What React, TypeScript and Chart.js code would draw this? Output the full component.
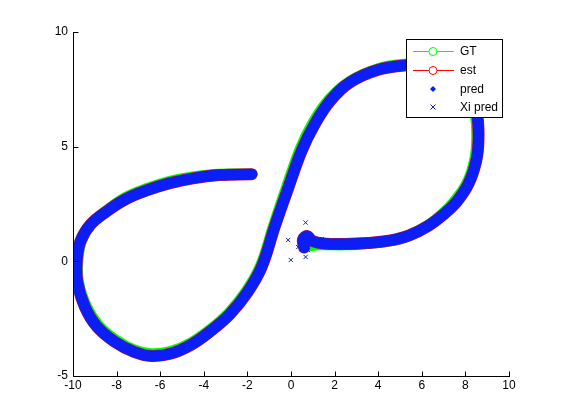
import React, { useEffect, useRef } from "react";
import { Chart, registerables } from "chart.js";

Chart.register(...registerables);

// Estimated trajectory (est / pred)
const trackX = [0.6, 0.55, 0.75, 0.95, 1.5, 2.5, 3.5, 4.5, 5.4, 6.3, 7.0, 7.6, 8.15, 8.5, 8.6, 8.55, 8.25, 7.6, 6.5, 5.3, 4.0, 2.7, 1.8, 1.1, 0.5, -0.2, -0.75, -1.35, -2.0, -2.8, -3.7, -4.6, -5.5, -6.4, -7.2, -8.1, -8.9, -9.45, -9.8, -9.82, -9.65, -9.2, -8.5, -7.6, -6.6, -5.6, -4.5, -3.3, -1.8];
const trackY = [0.6, 0.95, 1.1, 0.9, 0.78, 0.76, 0.8, 0.9, 1.12, 1.55, 2.05, 2.6, 3.4, 4.4, 5.3, 6.3, 7.35, 8.15, 8.55, 8.55, 8.35, 7.8, 7.0, 6.0, 4.85, 3.0, 1.5, -0.25, -1.35, -2.3, -3.05, -3.65, -4.02, -4.13, -3.95, -3.5, -2.85, -2.0, -0.9, 0.1, 0.9, 1.6, 2.15, 2.7, 3.1, 3.4, 3.62, 3.76, 3.8];

// Ground truth trajectory
const gtX = [0.6, 0.7, 1.0, 1.5, 2.5, 3.5, 4.5, 5.4, 6.3, 7.0, 7.55, 8.08, 8.42, 8.52, 8.47, 8.2, 7.6, 6.5, 5.3, 4.0, 2.7, 1.75, 1.02, 0.42, -0.27, -0.8, -1.4, -2.05, -2.85, -3.72, -4.6, -5.5, -6.4, -7.2, -8.05, -8.82, -9.38, -9.75, -9.77, -9.6, -9.15, -8.45, -7.6, -6.6, -5.6, -4.5, -3.3, -1.8];
const gtY = [0.6, 0.65, 0.7, 0.72, 0.72, 0.78, 0.88, 1.12, 1.58, 2.12, 2.68, 3.43, 4.4, 5.3, 6.3, 7.32, 8.18, 8.6, 8.6, 8.4, 7.85, 7.06, 6.06, 4.9, 3.05, 1.55, -0.2, -1.3, -2.25, -2.98, -3.56, -3.92, -4.03, -3.86, -3.42, -2.8, -1.97, -0.9, 0.1, 0.93, 1.65, 2.22, 2.78, 3.18, 3.48, 3.68, 3.8, 3.8];

// Scattered "Xi pred" points near the start
const xiX = [0.67, -0.13, -0.01, 0.67, 0.33, 0.78, 1.42, 0.95];
const xiY = [1.69, 0.93, 0.06, 0.19, 0.62, 0.49, 0.97, 1.05];

// Axis ticks
const xMin = -10, xMax = 10, xStep = 2;
const yMin = -5, yMax = 10, yStep = 5;

const legendLabels = ["GT", "est", "pred", "Xi pred"];

const GREEN = "#00ff00";
const RED = "#ff0000";
const BLUE = "rgb(10,30,245)";
const XBLUE = "rgb(20,30,200)";
const FONT = "'Liberation Sans', Arial, sans-serif";

const toPts = (xs: number[], ys: number[]) => xs.map((x, i) => ({ x, y: ys[i] }));

const axesPlugin = {
  id: "matlabAxes",
  afterDraw(chart: any) {
    const { ctx, chartArea } = chart;
    const xs = chart.scales.x;
    const ys = chart.scales.y;
    ctx.save();
    ctx.strokeStyle = "#000";
    ctx.lineWidth = 1;
    const L = Math.round(chartArea.left) + 0.5;
    const B = Math.round(chartArea.bottom) + 0.5;
    ctx.beginPath();
    ctx.moveTo(L, Math.round(chartArea.top));
    ctx.lineTo(L, B);
    ctx.lineTo(Math.round(chartArea.right) + 1, B);
    for (const t of xs.ticks) {
      const px = Math.round(xs.getPixelForValue(t.value)) + 0.5;
      ctx.moveTo(px, B);
      ctx.lineTo(px, B - 5);
    }
    for (const t of ys.ticks) {
      const py = Math.round(ys.getPixelForValue(t.value)) + 0.5;
      ctx.moveTo(L, py);
      ctx.lineTo(L + 5, py);
    }
    ctx.stroke();

    // legend box
    const bx = 406.5, by = 39.5, bw = 96, bh = 78;
    ctx.fillStyle = "#fff";
    ctx.fillRect(bx, by, bw, bh);
    ctx.strokeRect(bx, by, bw, bh);
    const rows = [51, 70, 89, 107];
    const cx = 433;
    ctx.font = `12px ${FONT}`;
    ctx.textBaseline = "middle";
    ctx.textAlign = "left";
    rows.forEach((ry, i) => {
      if (i < 2) {
        const c = i === 0 ? GREEN : RED;
        ctx.strokeStyle = c;
        ctx.beginPath();
        ctx.moveTo(413, ry + 0.5);
        ctx.lineTo(454, ry + 0.5);
        ctx.stroke();
        ctx.fillStyle = "#fff";
        ctx.beginPath();
        ctx.arc(cx, ry + 0.5, 4, 0, Math.PI * 2);
        ctx.fill();
        ctx.stroke();
      } else if (i === 2) {
        ctx.fillStyle = BLUE;
        ctx.beginPath();
        ctx.moveTo(cx, ry - 3);
        ctx.lineTo(cx + 3, ry);
        ctx.lineTo(cx, ry + 3);
        ctx.lineTo(cx - 3, ry);
        ctx.closePath();
        ctx.fill();
      } else {
        ctx.strokeStyle = XBLUE;
        ctx.beginPath();
        ctx.moveTo(cx - 2.5, ry - 2.5);
        ctx.lineTo(cx + 2.5, ry + 2.5);
        ctx.moveTo(cx + 2.5, ry - 2.5);
        ctx.lineTo(cx - 2.5, ry + 2.5);
        ctx.stroke();
      }
      ctx.fillStyle = "#000";
      ctx.fillText(legendLabels[i], 460, ry + 1);
    });
    ctx.restore();
  },
};

export default function App() {
  const ref = useRef<HTMLCanvasElement | null>(null);
  useEffect(() => {
    if (!ref.current) return;
    const lastGt = gtX.length - 1;
    const chart = new Chart(ref.current, {
      type: "scatter",
      data: {
        datasets: [
          {
            label: legendLabels[3],
            data: toPts(xiX, xiY),
            showLine: false,
            pointStyle: "crossRot",
            pointRadius: 3,
            borderColor: XBLUE,
            pointBorderWidth: 1,
            order: 1,
          },
          {
            label: legendLabels[2],
            data: toPts(trackX, trackY),
            showLine: true,
            borderColor: BLUE,
            borderWidth: 11,
            borderCapStyle: "round",
            borderJoinStyle: "round",
            tension: 0.4,
            pointRadius: 0,
            order: 2,
          },
          {
            label: legendLabels[1],
            data: toPts(trackX, trackY),
            showLine: true,
            borderColor: "rgb(200,20,60)",
            borderWidth: 12,
            borderCapStyle: "round",
            borderJoinStyle: "round",
            tension: 0.4,
            pointRadius: 0,
            order: 3,
          },
          {
            label: legendLabels[0],
            data: toPts(gtX, gtY),
            showLine: true,
            borderColor: GREEN,
            backgroundColor: "rgba(0,0,0,0)",
            borderWidth: 11,
            borderCapStyle: "round",
            borderJoinStyle: "round",
            tension: 0.4,
            pointStyle: "circle",
            pointRadius: (c: any) => (c.dataIndex === 0 || c.dataIndex === lastGt ? 4 : 0),
            pointBorderWidth: 1,
            pointBorderColor: GREEN,
            order: 4,
          },
        ],
      },
      options: {
        responsive: false,
        animation: false,
        events: [],
        layout: { padding: { top: 32, right: 52, left: 0, bottom: 0 } },
        plugins: { legend: { display: false }, tooltip: { enabled: false } },
        scales: {
          x: {
            type: "linear",
            min: xMin,
            max: xMax,
            ticks: { stepSize: xStep, color: "#000", padding: 2, font: { family: FONT, size: 12 } },
            grid: { display: false, drawTicks: false },
            border: { display: false },
            afterFit: (s: any) => { s.height = 44; },
          },
          y: {
            type: "linear",
            min: yMin,
            max: yMax,
            ticks: { stepSize: yStep, color: "#000", padding: 5, font: { family: FONT, size: 12 } },
            grid: { display: false, drawTicks: false },
            border: { display: false },
            afterFit: (s: any) => { s.width = 73; },
          },
        },
      },
      plugins: [axesPlugin],
    } as any);
    return () => chart.destroy();
  }, []);
  return (
    <div style={{ position: "absolute", left: 0, top: 0, width: 561, height: 420, background: "#fff" }}>
      <canvas ref={ref} width={561} height={420} />
    </div>
  );
}
